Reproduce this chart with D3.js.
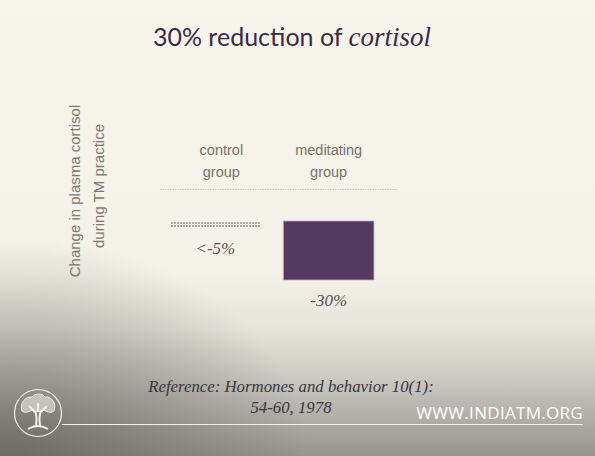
<!DOCTYPE html>
<html>
<head>
<meta charset="utf-8">
<script src="https://cdn.jsdelivr.net/npm/d3@7"></script>
<style>
  html, body { margin: 0; padding: 0; background: #f8f6ec; }
  svg { display: block; }
</style>
</head>
<body>
<div id="chart"></div>
<script>
const categories = ['control', 'meditating'];
const groupLabels = [['control', 'group'], ['meditating', 'group']];
const values = [-3.5, -30];
const valueLabels = ['<-5%', '-30%'];
const axisLabel = ['Change in plasma cortisol', 'during TM practice'];
const refLines = ['Reference: Hormones and behavior 10(1):', '54-60, 1978'];

const width = 595, height = 456;
const svg = d3.select('#chart').append('svg')
    .attr('width', width)
    .attr('height', height);

const defs = svg.append('defs');

// background: cream at the top fading to warm grey at the bottom
const bg = defs.append('linearGradient').attr('id', 'bg')
    .attr('x1', 0).attr('y1', 0).attr('x2', 0).attr('y2', 1);
bg.selectAll('stop')
  .data([[0, '#f8f6ec'], [0.6, '#f4f2e8'], [0.72, '#e6e4da'], [0.84, '#c8c6be'], [1, '#96948e']])
  .join('stop')
    .attr('offset', d => d[0])
    .attr('stop-color', d => d[1]);

const shade = defs.append('radialGradient').attr('id', 'shade')
    .attr('cx', 0.02).attr('cy', 1.02).attr('r', 0.5);
shade.append('stop').attr('offset', 0).attr('stop-color', '#5a5854').attr('stop-opacity', 0.7);
shade.append('stop').attr('offset', 1).attr('stop-color', '#5a5854').attr('stop-opacity', 0);

const dots = defs.append('pattern').attr('id', 'dots')
    .attr('patternUnits', 'userSpaceOnUse')
    .attr('width', 3).attr('height', 3);
dots.append('rect').attr('width', 2).attr('height', 2).attr('fill', '#aeaca6');

svg.append('rect').attr('width', width).attr('height', height).attr('fill', 'url(#bg)');
svg.append('rect').attr('width', width).attr('height', height).attr('fill', 'url(#shade)');

// title
const title = svg.append('text')
    .attr('x', 292).attr('y', 46)
    .attr('text-anchor', 'middle')
    .attr('fill', '#3b2b47')
    .style('font-size', '25px');
title.append('tspan').style('font-family', 'Lato, "Open Sans", sans-serif').style('font-weight', 400)
    .text('30% reduction of ');
title.append('tspan').style('font-family', '"Liberation Serif", serif').style('font-style', 'italic')
    .style('font-weight', 400).style('font-size', '27px').text('cortisol');

// scales
const x = d3.scaleBand().domain(categories)
    .range([158.7, 385.3]).paddingInner(0.2).paddingOuter(0.1);
const y = d3.scaleLinear().domain([0, -30]).range([221, 280]);

// y axis label (rotated, two lines)
axisLabel.forEach((t, i) => {
  svg.append('text')
      .attr('transform', `translate(${80 + i * 24},${i ? 186 : 191}) rotate(-90)`)
      .attr('text-anchor', 'middle')
      .attr('fill', '#7a7874')
      .style('font-family', '"Liberation Sans", Arial, sans-serif')
      .style('font-size', '15px')
      .text(t);
});

// group labels
categories.forEach((c, i) => {
  groupLabels[i].forEach((t, j) => {
    svg.append('text')
        .attr('x', x(c) + x.bandwidth() / 2 + (i === 0 ? 6 : 0))
        .attr('y', 155 + j * 22)
        .attr('text-anchor', 'middle')
        .attr('fill', '#74726e')
        .style('font-family', '"Liberation Sans", Arial, sans-serif')
        .style('font-size', '14.5px')
        .text(t);
  });
});

// dotted reference line
svg.append('line')
    .attr('x1', 160).attr('x2', 397)
    .attr('y1', 189.5).attr('y2', 189.5)
    .attr('stroke', '#bcbab4')
    .attr('stroke-width', 0.8)
    .attr('stroke-dasharray', '1.5,1');

// bars
svg.selectAll('.bar')
  .data(values)
  .join('rect')
    .attr('class', 'bar')
    .attr('x', (d, i) => x(categories[i]))
    .attr('y', y(0))
    .attr('width', x.bandwidth())
    .attr('height', d => y(d) - y(0))
    .attr('fill', (d, i) => i === 0 ? 'url(#dots)' : '#553a5f')
    .attr('stroke', (d, i) => i === 0 ? 'none' : '#c2acc4')
    .attr('stroke-width', 0.8);

// value labels
svg.selectAll('.val')
  .data(values)
  .join('text')
    .attr('class', 'val')
    .attr('x', (d, i) => x(categories[i]) + x.bandwidth() / 2)
    .attr('y', (d, i) => i === 0 ? 254 : y(d) + 26)
    .attr('text-anchor', 'middle')
    .attr('fill', '#56535a')
    .style('font-family', '"Liberation Serif", serif')
    .style('font-style', 'italic')
    .style('font-size', '17px')
    .text((d, i) => valueLabels[i]);

// reference text
refLines.forEach((t, i) => {
  svg.append('text')
      .attr('x', 291).attr('y', 392 + i * 21)
      .attr('text-anchor', 'middle')
      .attr('fill', '#3a3640')
      .style('font-family', '"Liberation Serif", serif')
      .style('font-style', 'italic')
      .style('font-size', '16.8px')
      .text(t);
});

// footer rule and site name
svg.append('line')
    .attr('x1', 62).attr('x2', 583)
    .attr('y1', 424.5).attr('y2', 424.5)
    .attr('stroke', '#f2f0ea').attr('stroke-width', 1.2);

svg.append('text')
    .attr('x', 583).attr('y', 419)
    .attr('text-anchor', 'end')
    .attr('fill', '#ffffff')
    .style('font-family', '"Open Sans", sans-serif')
    .style('font-size', '17px')
    .style('letter-spacing', '0.3px')
    .text('WWW.INDIATM.ORG');

// tree logo
const logo = svg.append('g').attr('transform', 'translate(38,413)')
    .attr('fill', 'none').attr('stroke', '#f4f2ec');
logo.append('circle').attr('r', 23.5).attr('stroke-width', 1.2);
logo.append('path')
    .attr('d', 'M-2,13 C-1,6 -1,2 -3,-2 M2,13 C1,6 1,2 3,-2 M-2,0 L-9,-7 M2,0 L9,-7 M0,-1 L0,-10 M-10,16 Q0,10 10,16')
    .attr('stroke-width', 2);
logo.append('path')
    .attr('d', 'M-16,-2 C-19,-10 -12,-17 -6,-16 C-3,-20 4,-20 7,-16 C13,-17 19,-10 16,-2 C12,1 8,-2 6,-3 C3,-1 -3,-1 -6,-3 C-8,-2 -12,1 -16,-2 Z')
    .attr('fill', '#f4f2ec').attr('fill-opacity', 0.55).attr('stroke-width', 1);
</script>
</body>
</html>
